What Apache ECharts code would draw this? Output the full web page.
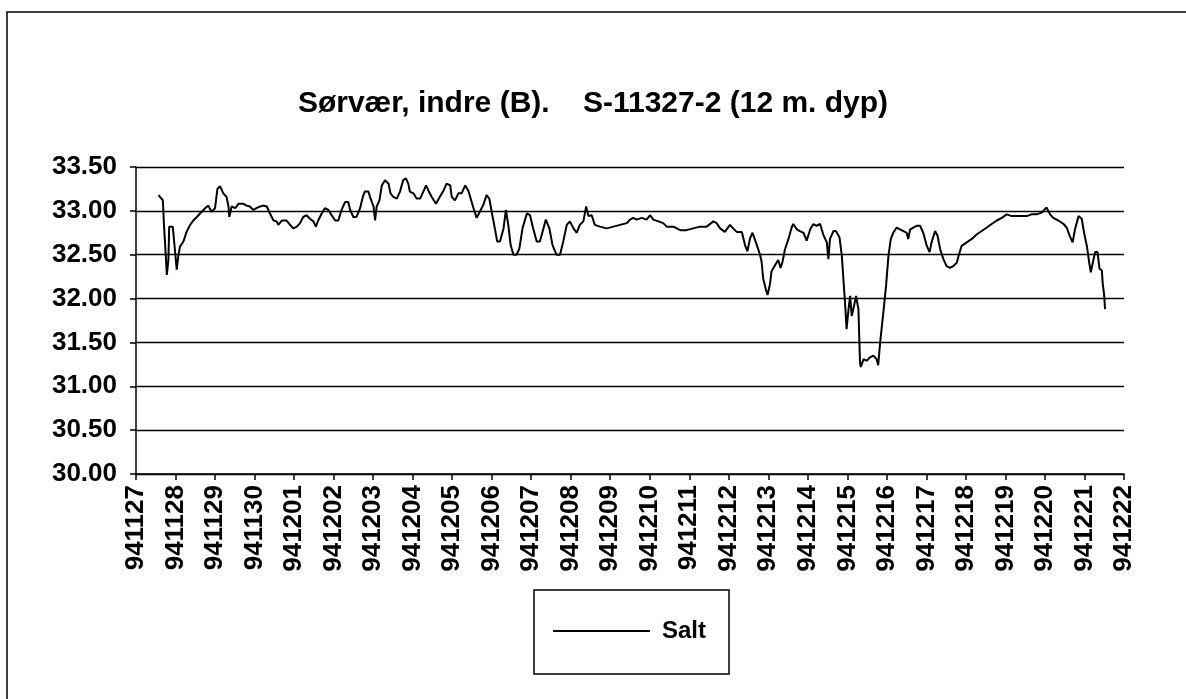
<!DOCTYPE html>
<html>
<head>
<meta charset="utf-8">
<script src="https://cdn.jsdelivr.net/npm/echarts@6/dist/echarts.min.js"></script>
<style>
  html, body { margin: 0; padding: 0; background: #fff; }
  #chart { width: 1186px; height: 699px; }
</style>
</head>
<body>
<div id="chart"></div>
<script>
// Day labels on the category ticks (yymmdd), one per day from 27 Nov to 22 Dec 1994
const dateLabels = ['941127','941128','941129','941130','941201','941202','941203','941204','941205',
  '941206','941207','941208','941209','941210','941211','941212','941213','941214','941215','941216',
  '941217','941218','941219','941220','941221','941222'];

// Time of each reading, in days after 941127 00:00
const tDays = [
  0.57,0.68,0.71,0.76,0.78,0.82,0.84,0.88,0.93,0.97,
  1.00,1.03,1.07,1.11,1.20,1.28,1.37,1.45,1.54,1.62,
  1.75,1.83,1.91,2.00,2.06,2.13,2.21,2.29,2.34,2.36,
  2.42,2.51,2.59,2.72,2.80,2.88,2.97,3.05,3.14,3.22,
  3.31,3.39,3.48,3.56,3.60,3.69,3.81,3.90,3.98,4.07,
  4.15,4.23,4.32,4.40,4.49,4.55,4.61,4.70,4.78,4.87,
  4.95,5.04,5.12,5.20,5.29,5.37,5.42,5.50,5.58,5.67,
  5.74,5.79,5.88,5.92,6.01,6.05,6.09,6.16,6.22,6.30,
  6.39,6.44,6.51,6.60,6.68,6.76,6.83,6.89,6.93,7.02,
  7.10,7.19,7.27,7.34,7.40,7.48,7.59,7.69,7.78,7.86,
  7.95,7.99,8.07,8.16,8.24,8.33,8.41,
  8.54,8.62,8.70,8.79,8.87,8.94,9.00,9.08,9.14,9.21,
  9.30,9.36,9.42,9.48,9.55,9.63,9.70,9.78,9.89,9.97,
  10.05,10.14,10.22,10.31,10.37,10.46,10.54,10.64,10.73,10.81,
  10.90,10.98,11.07,11.15,11.23,11.32,11.39,11.45,11.53,11.61,
  11.74,11.91,12.08,12.25,12.42,12.50,12.58,12.67,12.80,12.92,
  13.01,13.09,13.22,13.34,13.43,13.60,13.77,13.93,14.10,14.27,
  14.44,14.61,14.69,14.78,14.90,15.03,15.11,15.20,15.33,15.41,
  15.47,15.54,15.60,15.71,15.79,15.83,15.87,15.94,15.98,16.04,
  16.08,16.17,16.25,16.31,16.36,16.42,
  16.51,16.59,16.63,16.72,16.80,16.89,16.97,17.06,17.14,17.22,
  17.31,17.39,17.48,17.52,17.56,17.65,17.71,17.80,17.86,17.90,
  17.94,17.98,18.03,18.07,18.11,18.17,18.22,18.28,18.30,18.32,
  18.34,18.41,18.49,18.57,18.66,18.74,18.78,18.83,18.91,18.98,
  19.04,19.10,19.16,19.25,19.33,19.42,19.50,19.54,19.59,19.67,
  19.75,19.84,19.92,20.01,20.08,20.13,20.22,20.28,20.35,20.43,
  20.51,20.60,20.68,20.77,20.83,20.89,21.02,21.15,21.27,21.40,
  21.53,21.65,21.78,21.91,22.03,22.16,22.29,22.41,22.54,22.66,
  22.79,22.92,23.04,23.13,23.21,23.34,23.47,23.55,23.62,23.70,
  23.76,23.85,23.93,23.99,24.06,24.12,24.16,24.23,24.27,24.33,
  24.38,24.44,24.46,24.50,24.52
];

// Salinity at 12 m depth
const salt = [
  33.18,33.12,32.82,32.44,32.27,32.44,32.82,32.84,32.82,32.84,
  32.48,32.33,32.48,32.59,32.65,32.76,32.84,32.89,32.93,32.97,
  33.03,33.06,32.99,33.03,33.25,33.28,33.20,33.16,33.05,32.93,
  33.05,33.03,33.08,33.08,33.06,33.05,33.01,33.03,33.05,33.06,
  33.05,32.97,32.89,32.88,32.84,32.89,32.89,32.84,32.80,32.82,
  32.86,32.93,32.95,32.91,32.88,32.82,32.89,32.97,33.03,33.01,
  32.95,32.89,32.89,33.01,33.10,33.10,33.01,32.93,32.93,33.03,
  33.16,33.22,33.22,33.16,33.05,32.89,33.05,33.12,33.29,33.35,
  33.31,33.20,33.16,33.14,33.22,33.35,33.37,33.31,33.22,33.20,
  33.14,33.14,33.22,33.29,33.23,33.16,33.08,33.16,33.23,33.31,
  33.29,33.16,33.12,33.20,33.20,33.29,33.23,
  33.03,32.92,32.99,33.07,33.18,33.14,32.99,32.80,32.65,32.65,
  32.80,33.01,32.84,32.61,32.50,32.50,32.57,32.80,32.97,32.95,
  32.80,32.65,32.65,32.80,32.90,32.80,32.61,32.50,32.50,32.65,
  32.84,32.88,32.80,32.75,32.84,32.88,33.05,32.94,32.95,32.84,
  32.82,32.80,32.82,32.84,32.86,32.90,32.92,32.90,32.92,32.90,
  32.95,32.90,32.88,32.86,32.82,32.82,32.78,32.78,32.80,32.82,
  32.82,32.88,32.86,32.80,32.76,32.84,32.80,32.76,32.76,32.61,
  32.54,32.69,32.75,32.61,32.50,32.42,32.23,32.10,32.04,32.16,
  32.31,32.38,32.44,32.35,32.42,32.56,
  32.68,32.81,32.85,32.79,32.77,32.75,32.66,32.79,32.85,32.83,
  32.85,32.73,32.64,32.45,32.68,32.77,32.77,32.70,32.49,32.22,
  31.96,31.65,31.88,32.03,31.80,31.92,32.03,31.88,31.58,31.27,
  31.22,31.31,31.29,31.33,31.35,31.31,31.24,31.50,31.84,32.15,
  32.49,32.68,32.75,32.81,32.79,32.77,32.75,32.68,32.79,32.81,
  32.83,32.83,32.75,32.60,32.53,32.64,32.77,32.72,32.56,32.45,
  32.37,32.35,32.37,32.41,32.51,32.60,32.64,32.68,32.73,32.77,
  32.81,32.85,32.89,32.92,32.96,32.94,32.94,32.94,32.94,32.96,
  32.96,32.98,33.04,32.96,32.92,32.89,32.85,32.81,32.72,32.64,
  32.79,32.94,32.91,32.75,32.60,32.41,32.30,32.45,32.53,32.53,
  32.34,32.32,32.18,32.03,31.88
];

const FONT = '"Liberation Sans", Arial, Helvetica, sans-serif';

const chart = echarts.init(document.getElementById('chart'), null, { renderer: 'canvas' });

chart.setOption({
  animation: false,
  backgroundColor: '#ffffff',
  textStyle: { fontFamily: FONT, color: '#000' },
  title: {
    text: 'Sørvær, indre (B).    S-11327-2 (12 m. dyp)',
    left: 'center',
    top: 84,
    textStyle: { fontFamily: FONT, fontSize: 30, fontWeight: 'bold', color: '#000' }
  },
  grid: { left: 136, right: 62, top: 167, bottom: 225 },
  xAxis: {
    type: 'value',
    min: 0,
    max: dateLabels.length - 1,
    interval: 1,
    axisLine: { show: true, onZero: false, lineStyle: { color: '#000', width: 1.5 } },
    axisTick: { show: true, length: 6, lineStyle: { color: '#000', width: 1.5 } },
    axisLabel: {
      rotate: 90,
      margin: 11,
      fontFamily: FONT,
      fontSize: 26,
      fontWeight: 'bold',
      color: '#000',
      showMinLabel: true,
      showMaxLabel: true,
      formatter: v => dateLabels[Math.round(v)] || ''
    },
    splitLine: { show: false }
  },
  yAxis: {
    type: 'value',
    min: 30,
    max: 33.5,
    interval: 0.5,
    axisLine: { show: true, lineStyle: { color: '#000', width: 1.5 } },
    axisTick: { show: true, length: 6, lineStyle: { color: '#000', width: 1.5 } },
    axisLabel: {
      margin: 19,
      fontFamily: FONT,
      fontSize: 26,
      fontWeight: 'bold',
      color: '#000',
      formatter: v => v.toFixed(2)
    },
    splitLine: { show: true, lineStyle: { color: '#000', width: 1.3 } }
  },
  legend: {
    data: [{ name: 'Salt', icon: 'rect' }],
    left: 534,
    top: 590,
    orient: 'horizontal',
    itemWidth: 97,
    itemHeight: 2,
    padding: [29, 23, 31, 19],
    borderColor: '#000',
    borderWidth: 1.5,
    borderRadius: 0,
    itemStyle: { color: '#000', borderWidth: 0 },
    textStyle: { fontFamily: FONT, fontSize: 24, fontWeight: 'bold', color: '#000', padding: [0, 0, 0, 7] }
  },
  series: [{
    name: 'Salt',
    type: 'line',
    symbol: 'none',
    data: tDays.map((t, i) => [t, salt[i]]),
    lineStyle: { color: '#000', width: 2 },
    itemStyle: { color: '#000' }
  }],
  graphic: [{
    type: 'rect',
    silent: true,
    shape: { x: 7, y: 12, width: 1200, height: 720 },
    style: { fill: 'none', stroke: '#000', lineWidth: 1.5 }
  }]
});
</script>
</body>
</html>
